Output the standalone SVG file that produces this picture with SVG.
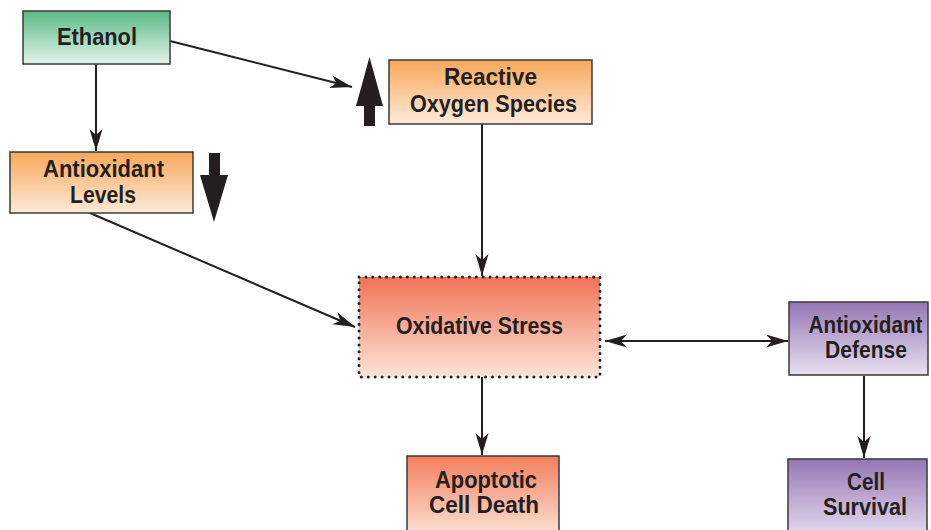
<svg xmlns="http://www.w3.org/2000/svg" width="931" height="530" viewBox="0 0 931 530">
<style>
  .box { stroke: #3a3a3a; stroke-width: 1.5; }
  .lbl { font-family: "Liberation Sans", Arial, sans-serif; font-weight: bold; font-size: 24px; fill: #231f20; text-anchor: middle; }
  .conn { stroke: #231f20; stroke-width: 2; fill: none; marker-end: url(#ah); }
  .big { fill: #231f20; }
</style>
<defs>
  <linearGradient id="gGreen" x1="0" y1="0" x2="0" y2="1">
    <stop offset="0" stop-color="#5cba86"/>
    <stop offset="1" stop-color="#e2f3e9"/>
  </linearGradient>
  <linearGradient id="gOrange" x1="0" y1="0" x2="0" y2="1">
    <stop offset="0" stop-color="#f8a85a"/>
    <stop offset="1" stop-color="#fdeada"/>
  </linearGradient>
  <linearGradient id="gRed" x1="0" y1="0" x2="0" y2="1">
    <stop offset="0" stop-color="#f07356"/>
    <stop offset="1" stop-color="#fde4d8"/>
  </linearGradient>
  <linearGradient id="gRed2" x1="0" y1="0" x2="0" y2="1">
    <stop offset="0" stop-color="#f27e5e"/>
    <stop offset="1" stop-color="#fde2d4"/>
  </linearGradient>
  <linearGradient id="gPurple" x1="0" y1="0" x2="0" y2="1">
    <stop offset="0" stop-color="#9576b4"/>
    <stop offset="1" stop-color="#e8e0f1"/>
  </linearGradient>
  <marker id="ah" markerUnits="userSpaceOnUse" markerWidth="24" markerHeight="14" refX="22" refY="6.5" orient="auto-start-reverse" viewBox="0 0 24 14">
    <path d="M0,0 L22,6.5 L0,13 L6,6.5 Z" fill="#231f20"/>
  </marker>
</defs>

<g id="connectors">
  <line class="conn" x1="96" y1="64" x2="96" y2="151"/>
  <line class="conn" x1="170" y1="41" x2="352" y2="87"/>
  <line class="conn" x1="482" y1="124" x2="482" y2="276"/>
  <line class="conn" x1="90" y1="213" x2="355" y2="327"/>
  <line class="conn" x1="605" y1="341" x2="788" y2="341" marker-start="url(#ah)"/>
  <line class="conn" x1="482" y1="377" x2="482" y2="455"/>
  <line class="conn" x1="864" y1="376" x2="864" y2="458"/>
</g>

<g id="up-arrow">
  <polygon class="big" points="369.5,57 383,106 375,106 375,126 364,126 364,106 356,106"/>
</g>
<g id="down-arrow">
  <polygon class="big" points="209,153 220,153 220,175 228,175 214,222 200,175 209,175"/>
</g>

<g id="ethanol">
  <rect class="box" x="23" y="11" width="147" height="53" fill="url(#gGreen)"/>
  <text class="lbl" x="97" y="45" textLength="80" lengthAdjust="spacingAndGlyphs">Ethanol</text>
</g>

<g id="antioxidant-levels">
  <rect class="box" x="10" y="152" width="183" height="61" fill="url(#gOrange)"/>
  <text class="lbl" x="103.5" y="177" textLength="121" lengthAdjust="spacingAndGlyphs">Antioxidant</text>
  <text class="lbl" x="103" y="203" textLength="66" lengthAdjust="spacingAndGlyphs">Levels</text>
</g>

<g id="ros">
  <rect class="box" x="389" y="60" width="203" height="64" fill="url(#gOrange)"/>
  <text class="lbl" x="490.5" y="85" textLength="93" lengthAdjust="spacingAndGlyphs">Reactive</text>
  <text class="lbl" x="493.5" y="112" textLength="167" lengthAdjust="spacingAndGlyphs">Oxygen Species</text>
</g>

<g id="oxidative-stress">
  <rect x="359" y="277" width="241" height="100" fill="url(#gRed)"/>
  <rect x="359" y="277" width="241" height="100" fill="none" stroke="#231f20" stroke-width="3" stroke-linecap="round" stroke-dasharray="0 6.9"/>
  <text class="lbl" x="479.5" y="334" textLength="167" lengthAdjust="spacingAndGlyphs">Oxidative Stress</text>
</g>

<g id="antioxidant-defense">
  <rect class="box" x="789" y="302" width="139" height="73" fill="url(#gPurple)"/>
  <text class="lbl" x="865.5" y="333" textLength="114" lengthAdjust="spacingAndGlyphs">Antioxidant</text>
  <text class="lbl" x="866" y="358" textLength="82" lengthAdjust="spacingAndGlyphs">Defense</text>
</g>

<g id="apoptotic-cell-death">
  <rect class="box" x="407" y="456" width="152" height="80" fill="url(#gRed2)"/>
  <text class="lbl" x="486" y="488" textLength="102" lengthAdjust="spacingAndGlyphs">Apoptotic</text>
  <text class="lbl" x="484" y="513" textLength="110" lengthAdjust="spacingAndGlyphs">Cell Death</text>
</g>

<g id="cell-survival">
  <rect class="box" x="788" y="459" width="139" height="80" fill="url(#gPurple)"/>
  <text class="lbl" x="866" y="490" textLength="38" lengthAdjust="spacingAndGlyphs">Cell</text>
  <text class="lbl" x="865" y="515" textLength="84" lengthAdjust="spacingAndGlyphs">Survival</text>
</g>
</svg>
